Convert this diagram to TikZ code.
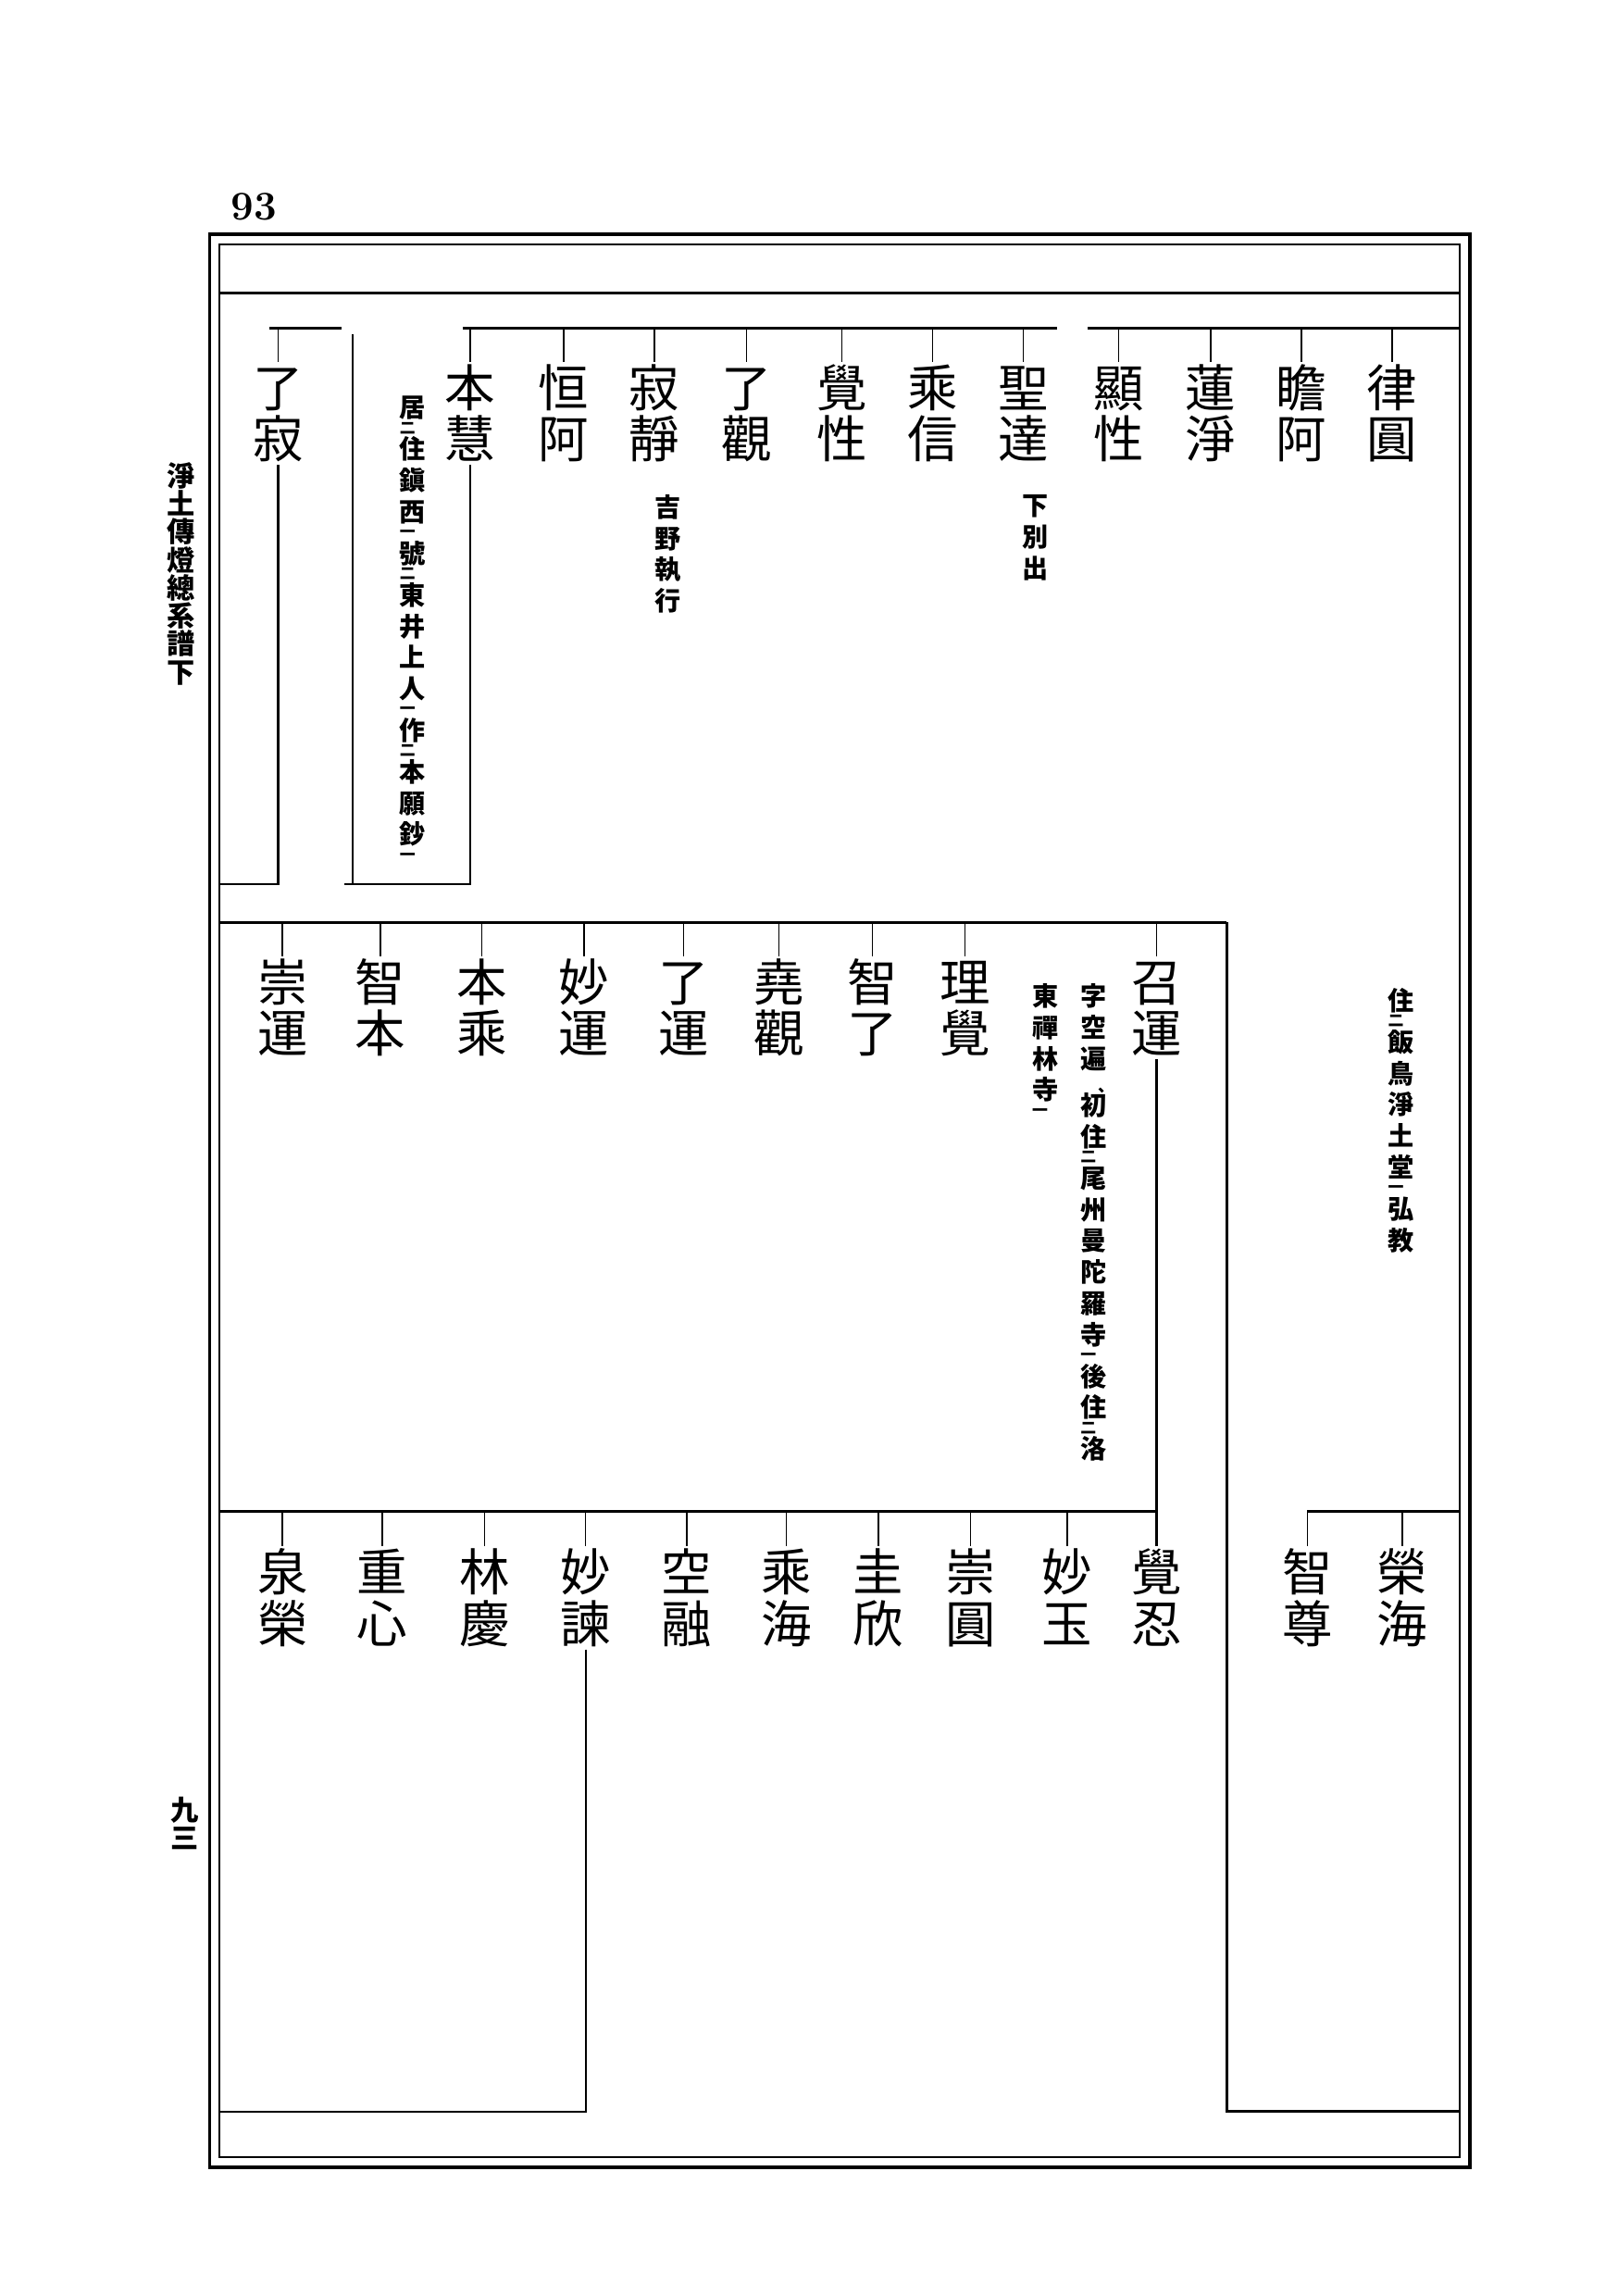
\documentclass[tikz,border=0pt]{standalone}
\usepackage{fontspec}
\newfontfamily\jpf{Noto Sans CJK JP}
\newcommand\cbox[1]{\hbox to 1em{\vrule height .88em depth .12em width 0pt\hss\smash{#1}\hss}}
\newcommand\nm[2]{\vbox{\offinterlineskip\cbox{#1}\kern0.3pt\cbox{#2}}}
\newcommand\vnote[1]{\vbox{\offinterlineskip #1}}
\newcommand\vchr[1]{\cbox{#1}\kern1.6pt}
\newcommand\vkae[1]{\kern-1.2pt\hbox to 1em{\vrule height 3.6pt depth .6pt width 0pt\smash{\fontsize{4.8}{4.8}\selectfont #1}\hss}\kern0.2pt}
\newcommand\vten{\hbox to 1em{\vrule height 4.5pt depth 0pt width 0pt\hss\smash{\fontsize{5}{5}\selectfont 、}\kern-2.5pt}\kern0.3pt}
\newcommand\tchr[1]{\cbox{#1}}
\tikzset{
  pname/.style={inner sep=0pt, anchor=north, font=\jpf\fontsize{15.5}{16}\selectfont},
  pnote/.style={inner sep=0pt, anchor=north, font=\jpf\bfseries\fontsize{8}{9}\selectfont},
  ptitle/.style={inner sep=0pt, anchor=north, font=\jpf\bfseries\fontsize{8.6}{9}\selectfont},
  tickln/.style={line width=0.45pt},
  barln/.style={line width=0.8pt},
  descln/.style={line width=0.6pt},
  frameout/.style={line width=0.95pt},
  framein/.style={line width=0.65pt}
}
\begin{document}
\begin{tikzpicture}[x=0.1582mm, y=-0.1582mm]
\fill[white] (0,0) rectangle (1105,1568);
\useasboundingbox (0,0) rectangle (1105,1568);

% page number
\node[inner sep=0pt, font=\fontsize{12.5}{12.5}\selectfont\bfseries] (pgnum) at (173.5,141.5) {93};

% margin title
\node[ptitle] (title) at (123.5,315) {\vnote{\tchr{淨}\tchr{土}\tchr{傳}\tchr{燈}\tchr{總}\tchr{系}\tchr{譜}\tchr{下}}};
\node[ptitle] (folio) at (126,1226) {\vnote{\tchr{九}\tchr{三}}};

% frame
\draw[frameout] (143,160) rectangle (1004,1480);
\draw[framein] (150,167) rectangle (997,1473);
\draw[barln] (150,200) -- (997,200);

% bar levels
\coordinate (tb) at (0,224);
\coordinate (mb) at (0,630);
\coordinate (bb) at (0,1032);

% ---- top row ----
\node[pname] (lvyuan)   at (951,247) {\nm{律}{圓}};
\node[pname] (zhana)    at (889,247) {\nm{瞻}{阿}};
\node[pname] (lianjing) at (827,247) {\nm{蓮}{淨}};
\node[pname] (xianxing) at (764,247) {\nm{顯}{性}};
\node[pname] (shengda)  at (699,247) {\nm{聖}{達}};
\node[pname] (chengxin) at (637,247) {\nm{乘}{信}};
\node[pname] (juexing)  at (575,247) {\nm{覺}{性}};
\node[pname] (liaoguan) at (510,247) {\nm{了}{觀}};
\node[pname] (jijing)   at (447,247) {\nm{寂}{靜}};
\node[pname] (henga)    at (385,247) {\nm{恒}{阿}};
\node[pname] (benhui)   at (321,247) {\nm{本}{慧}};
\node[pname] (liaoji)   at (190,247) {\nm{了}{寂}};

\draw[barln] (184,224) -- (233,224);
\draw[barln] (316,224) -- (722,224);
\draw[barln] (743,224) -- (997,224);
\foreach \n in {lvyuan,zhana,lianjing,xianxing,shengda,chengxin,juexing,liaoguan,jijing,henga,benhui,liaoji}
  \draw[tickln] (\n.north) -- (\n.north |- tb);

% notes top row
\node[pnote] (nbenhui) at (282,269) {\vnote{\vchr{居}\vkae{二}\vchr{住}\vchr{鎭}\vchr{西}\vkae{一}\vchr{號}\vkae{二}\vchr{東}\vchr{井}\vchr{上}\vchr{人}\vkae{一}\vchr{作}\vkae{二}\vchr{本}\vchr{願}\vchr{鈔}\vkae{一}}};
\node[pnote] (njijing) at (456,337) {\vnote{\vchr{吉}\vchr{野}\vchr{執}\vchr{行}}};
\node[pnote] (nshengda) at (707,336) {\vnote{\vchr{下}\vchr{別}\vchr{出}}};
\node[pnote] (nlvyuan) at (957,674) {\vnote{\vchr{住}\vkae{二}\vchr{飯}\vchr{鳥}\vchr{淨}\vchr{土}\vchr{堂}\vkae{一}\vchr{弘}\vchr{教}}};

% descents top
\coordinate (ljend) at (150,604);
\coordinate (bhend) at (235,604);
\coordinate (upb) at (241,604);
\coordinate (upt) at (241,228);
\draw[descln] (liaoji.south) |- (ljend);
\draw[descln] (benhui.south) |- (bhend);
\draw[descln] (upb) -- (upt);

% ---- middle row ----
\node[pname] (zhaoyun)  at (790,653) {\nm{召}{運}};
\node[pname] (lijue)    at (659,653) {\nm{理}{覺}};
\node[pname] (zhiliao)  at (596,653) {\nm{智}{了}};
\node[pname] (yaoguan)  at (532,653) {\nm{堯}{觀}};
\node[pname] (liaoyun)  at (467,653) {\nm{了}{運}};
\node[pname] (miaoyun)  at (399,653) {\nm{妙}{運}};
\node[pname] (bencheng) at (329,653) {\nm{本}{乘}};
\node[pname] (zhiben)   at (260,653) {\nm{智}{本}};
\node[pname] (chongyun) at (193,653) {\nm{崇}{運}};

\draw[barln] (150,630) -- (838,630);
\foreach \n in {zhaoyun,lijue,zhiliao,yaoguan,liaoyun,miaoyun,bencheng,zhiben,chongyun}
  \draw[tickln] (\n.north) -- (\n.north |- mb);

\node[pnote] (nzy1) at (747,671) {\vnote{\vchr{字}\vchr{空}\vchr{遍}\vten\vchr{初}\vchr{住}\vkae{二}\vchr{尾}\vchr{州}\vchr{曼}\vchr{陀}\vchr{羅}\vchr{寺}\vkae{一}\vchr{後}\vchr{住}\vkae{二}\vchr{洛}}};
\node[pnote] (nzy2) at (714,671) {\vnote{\vchr{東}\vchr{禪}\vchr{林}\vchr{寺}\vkae{一}}};

\coordinate (mrt) at (838,630);
\coordinate (mrb) at (838,1442);
\coordinate (mre) at (997,1442);
\draw[barln] (mrt) -- (mrb) -- (mre);

% ---- bottom row ----
\node[pname] (juren)     at (790,1056) {\nm{覺}{忍}};
\node[pname] (miaoyu)    at (729,1056) {\nm{妙}{玉}};
\node[pname] (chongyuan) at (663,1056) {\nm{崇}{圓}};
\node[pname] (guixin)    at (600,1056) {\nm{圭}{欣}};
\node[pname] (chenghai)  at (537,1056) {\nm{乘}{海}};
\node[pname] (kongrong)  at (469,1056) {\nm{空}{融}};
\node[pname] (miaojian)  at (400,1056) {\nm{妙}{諫}};
\node[pname] (linqing)   at (331,1056) {\nm{林}{慶}};
\node[pname] (zhongxin)  at (261,1056) {\nm{重}{心}};
\node[pname] (quanrong)  at (193,1056) {\nm{泉}{榮}};
\node[pname] (ronghai)   at (958,1056) {\nm{榮}{海}};
\node[pname] (zhizun)    at (893,1056) {\nm{智}{尊}};

\draw[barln] (150,1032) -- (790,1032);
\draw[barln] (893,1032) -- (997,1032);
\foreach \n in {miaoyu,chongyuan,guixin,chenghai,kongrong,miaojian,linqing,zhongxin,quanrong,ronghai,zhizun}
  \draw[tickln] (\n.north) -- (\n.north |- bb);

\draw[descln] (zhaoyun.south) -- (juren.north);
\coordinate (mjend) at (150,1442);
\draw[descln] (miaojian.south) |- (mjend);
\end{tikzpicture}
\end{document}
